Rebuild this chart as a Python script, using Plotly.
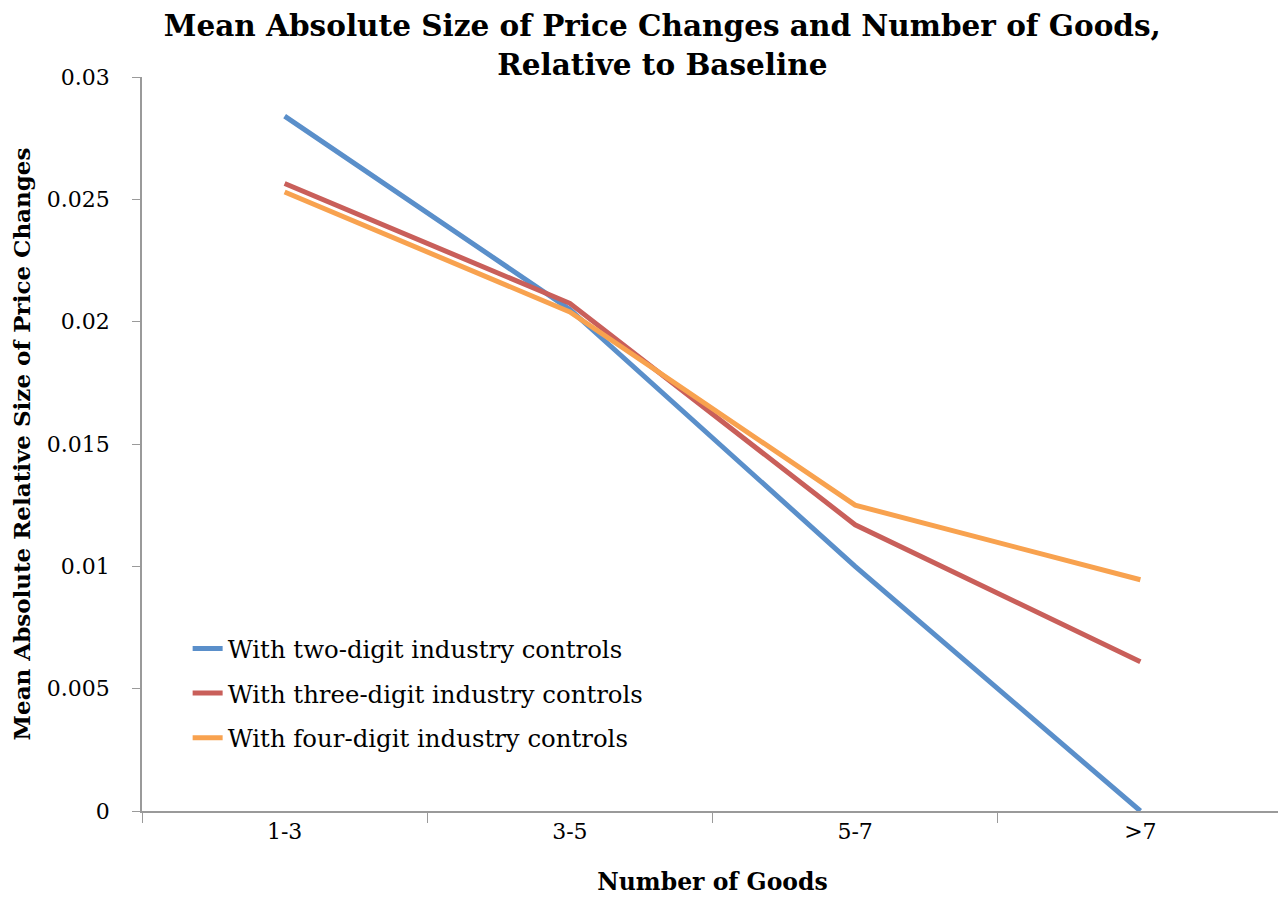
import plotly.graph_objects as go

categories = ["1-3", "3-5", "5-7", ">7"]
two_digit = [0.0284, 0.0205, 0.0100, 0.0]
three_digit = [0.02565, 0.02075, 0.0117, 0.0061]
four_digit = [0.0253, 0.0204, 0.0125, 0.00945]

series = [
    ("With two-digit industry controls", two_digit, "#5A8FCA"),
    ("With three-digit industry controls", three_digit, "#C95F5A"),
    ("With four-digit industry controls", four_digit, "#F8A24F"),
]

FONT = "DejaVu Serif, serif"

fig = go.Figure()
for i, (name, values, color) in enumerate(series):
    fig.add_trace(go.Scatter(
        x=categories, y=values, name=name, mode="lines",
        legendgroup=f"g{i}",
        line=dict(color=color, width=5),
    ))

# page body has an 8px margin, so the figure is a bit smaller than the window
fig.update_layout(
    width=1278,
    height=890,
    margin=dict(l=134, r=3, t=69, b=87),
    paper_bgcolor="white",
    plot_bgcolor="white",
    font=dict(family=FONT, size=22, color="black"),
    title=dict(
        text="<b>Mean Absolute Size of Price Changes and Number of Goods,<br>Relative to Baseline</b>",
        x=0.512, xanchor="center", y=0.968, yanchor="top",
        font=dict(size=29.5),
    ),
    legend=dict(
        x=0.04, y=0.252, xanchor="left", yanchor="top",
        bgcolor="rgba(0,0,0,0)", font=dict(size=24.4),
        itemwidth=30, tracegroupgap=10, traceorder="grouped",
    ),
)
fig.update_xaxes(
    type="category", range=[-0.5, 3.5],
    showline=True, linecolor="#9a9a9a", linewidth=1.5,
    ticks="outside", tickson="boundaries", ticklen=10, tickcolor="#9a9a9a",
    showgrid=False, zeroline=False,
    title=dict(text="<b>Number of Goods</b>", standoff=30, font=dict(size=23.5)),
)
fig.update_yaxes(
    range=[0, 0.03], dtick=0.005,
    showline=True, linecolor="#9a9a9a", linewidth=1.5,
    ticks="outside", ticklen=8, tickcolor="#9a9a9a", ticklabelstandoff=18,
    showgrid=False, zeroline=False,
    title=dict(text="<b>Mean Absolute Relative Size of Price Changes</b>", standoff=14, font=dict(size=23)),
)

fig.write_html("out.html")
